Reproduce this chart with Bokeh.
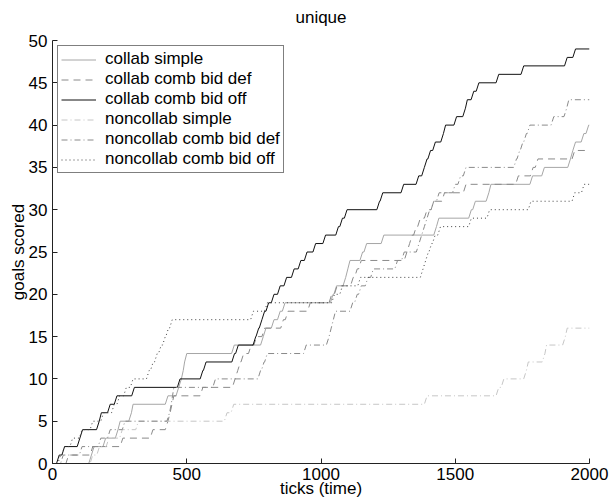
from bokeh.plotting import figure
from bokeh.models import Range1d, FixedTicker, Legend, LegendItem, Title
from bokeh.embed import file_html
from bokeh.resources import INLINE

# ---- data: tick at which each successive goal was reached ----
x_ticks = [0, 500, 1000, 1500, 2000]
y_ticks = [0, 5, 10, 15, 20, 25, 30, 35, 40, 45, 50]

collab_simple = [145, 155, 198, 244, 252, 294, 300, 430, 470, 480, 487, 492, 500,
                 677, 785, 795, 825, 848, 866, 1045, 1058, 1092, 1100, 1108, 1155,
                 1170, 1234, 1430, 1439, 1560, 1575, 1625, 1633, 1788, 1832, 1929,
                 1938, 1948, 1979, 1997]

collab_comb_bid_def = [60, 150, 262, 374, 430, 438, 445, 452, 560, 680, 690, 700,
                       712, 740, 760, 790, 860, 877, 960, 1040, 1060, 1120, 1135,
                       1150, 1320, 1330, 1340, 1355, 1370, 1395, 1420, 1460, 1540,
                       1735, 1790, 1808, 1945]

collab_comb_bid_off = [25, 45, 102, 112, 174, 182, 215, 240, 305, 475, 560, 572,
                       678, 692, 757, 768, 780, 790, 805, 825, 848, 872, 900, 925,
                       948, 980, 1017, 1065, 1080, 1097, 1218, 1230, 1308, 1364,
                       1385, 1395, 1408, 1426, 1456, 1464, 1505, 1538, 1545, 1569,
                       1588, 1662, 1755, 1917, 1948]

noncollab_simple = [150, 175, 210, 260, 320, 650, 675, 1395, 1662, 1681, 1765,
                    1772, 1834, 1840, 1910, 1917]

noncollab_comb_bid_def = [40, 110, 180, 215, 270, 436, 442, 447, 452, 607, 775,
                          788, 800, 945, 1030, 1038, 1046, 1054, 1118, 1135, 1150,
                          1175, 1195, 1285, 1310, 1365, 1375, 1385, 1395, 1405,
                          1420, 1440, 1500, 1520, 1540, 1728, 1740, 1752, 1765,
                          1778, 1867, 1915, 1923]

noncollab_comb_bid_off = [30, 45, 75, 110, 150, 190, 230, 250, 275, 300, 360, 375,
                          390, 405, 420, 432, 446, 748, 800, 1050, 1080, 1147, 1380,
                          1390, 1400, 1412, 1425, 1445, 1560, 1628, 1782, 1945, 1980]

names = ["collab simple", "collab comb bid def", "collab comb bid off",
         "noncollab simple", "noncollab comb bid def", "noncollab comb bid off"]
series = [collab_simple, collab_comb_bid_def, collab_comb_bid_off,
          noncollab_simple, noncollab_comb_bid_def, noncollab_comb_bid_off]

styles = [
    dict(color="#a6a6a6", dash="solid"),
    dict(color="#8a8a8a", dash="7 5"),
    dict(color="#111111", dash="solid"),
    dict(color="#c6c6c6", dash="6 3 1 3"),
    dict(color="#8a8a8a", dash="6 3 1 3"),
    dict(color="#404040", dash="1 3"),
]

T_END = 2000
RISE = 10


def stair_path(times):
    xs, ys = [0], [0]
    prev = 0
    for k, t in enumerate(times, start=1):
        start = max(prev, t - RISE)
        if start > xs[-1]:
            xs.append(start)
            ys.append(k - 1)
        xs.append(t)
        ys.append(k)
        prev = t
    xs.append(T_END)
    ys.append(len(times))
    return xs, ys


FONT = "Liberation Sans"

p = figure(width=610, height=501, x_range=Range1d(0, 2000), y_range=Range1d(0, 50),
           output_backend="svg", toolbar_location=None, title="unique",
           min_border_left=52, min_border_right=21, min_border_top=40,
           min_border_bottom=38)

# thin empty spacer between the frame and the title
p.add_layout(Title(text=" ", text_font_size="11px", standoff=0), "above")

p.title.align = "center"
p.title.vertical_align = "bottom"
p.title.text_font = FONT
p.title.text_font_size = "17px"
p.title.text_font_style = "normal"
p.title.text_color = "black"
p.title.standoff = 0

p.outline_line_color = None
p.xgrid.visible = False
p.ygrid.visible = False
p.background_fill_color = "white"
p.border_fill_color = "white"

for ax in (p.xaxis[0], p.yaxis[0]):
    ax.major_tick_in = 5
    ax.major_tick_out = 0
    ax.minor_tick_line_color = None
    ax.axis_line_color = "#222222"
    ax.major_tick_line_color = "#222222"
    ax.major_label_text_font = FONT
    ax.major_label_text_font_size = "17px"
    ax.major_label_text_color = "black"
    ax.axis_label_text_font = FONT
    ax.axis_label_text_font_size = "17px"
    ax.axis_label_text_font_style = "normal"
    ax.axis_label_text_color = "black"

p.xaxis.ticker = FixedTicker(ticks=x_ticks)
p.yaxis.ticker = FixedTicker(ticks=y_ticks)
p.xaxis.axis_label = "ticks (time)"
p.yaxis.axis_label = "goals scored"
p.xaxis.major_label_standoff = 4
p.xaxis.axis_label_standoff = -4
p.yaxis.major_label_standoff = 5
p.yaxis.axis_label_standoff = -2

items = []
for name, times, st in zip(names, series, styles):
    xs, ys = stair_path(times)
    r = p.line(xs, ys, line_color=st["color"], line_width=1, line_dash=st["dash"])
    items.append(LegendItem(label=name, renderers=[r]))

legend = Legend(items=items, location="top_left")
legend.margin = 5
legend.padding = 3
legend.spacing = 0
legend.glyph_width = 35
legend.glyph_height = 19
legend.label_height = 19
legend.label_standoff = 9
legend.label_text_font = FONT
legend.label_text_font_size = "17px"
legend.label_text_color = "black"
legend.border_line_color = "black"
legend.border_line_width = 1
legend.background_fill_color = "white"
legend.background_fill_alpha = 1.0
p.add_layout(legend, "center")

open("out.html", "w").write(file_html(p, INLINE))
